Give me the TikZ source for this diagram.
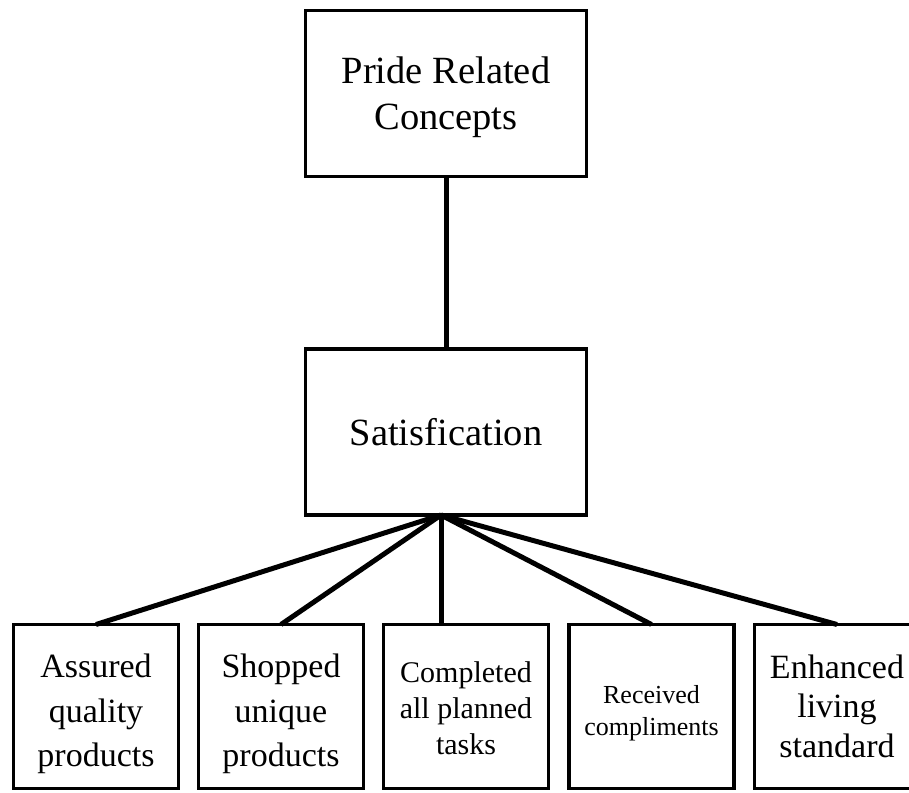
\documentclass[tikz,border=0pt]{standalone}
\usepackage{fontspec}
\setmainfont{Liberation Serif}
\begin{document}
\begin{tikzpicture}[x=1pt,y=-1pt,
  box/.style={draw, line width=3.3pt, inner sep=0pt, outer sep=0pt},
  bigbox/.style={box, minimum width=281pt, minimum height=166pt},
  leaf/.style={box, minimum width=165pt, minimum height=164pt},
  txt/.style={align=center, inner sep=0pt, outer sep=0pt},
  link/.style={line width=5pt}
]
\useasboundingbox (0,0) rectangle (909,792);

% upper concept boxes
\node[bigbox] (top) at (446,93.5) {};
\node[bigbox] (mid) at (446,432) {};
\node[txt, font=\fontsize{38.5}{46}\selectfont] (ttop) at (446,97) {Pride Related\\Concepts};
\node[txt, font=\fontsize{38.5}{46}\selectfont] (tmid) at (446,432) {Satisfication};

% leaf boxes
\node[leaf] (b1) at (96,706.5) {};
\node[leaf] (b2) at (281,706.5) {};
\node[leaf] (b3) at (466,706.5) {};
\node[leaf] (b4) at (651.5,706.5) {};
\node[leaf] (b5) at (837,706.5) {};

\node[txt, font=\fontsize{34}{44.5}\selectfont] (t1) at (96,714) {Assured\\quality\\products};
\node[txt, font=\fontsize{34}{44.5}\selectfont] (t2) at (281,714) {Shopped\\unique\\products};
\node[txt, font=\fontsize{30}{36}\selectfont] (t3) at (466,708) {Completed\\all planned\\tasks};
\node[txt, font=\fontsize{26}{32}\selectfont] (t4) at (651.5,713) {Received\\compliments};
\node[txt, font=\fontsize{34}{39.5}\selectfont] (t5) at (837,706) {Enhanced\\living\\standard};

% connectors
\draw[link] (top.south) -- (mid.north);
\coordinate (apex) at (441,515);
\draw[link] (apex) -- (b1.north);
\draw[link] (apex) -- (b2.north);
\draw[link] (apex) -- (apex |- b3.north);
\draw[link] (apex) -- (b4.north);
\draw[link] (apex) -- (b5.north);
\end{tikzpicture}
\end{document}
